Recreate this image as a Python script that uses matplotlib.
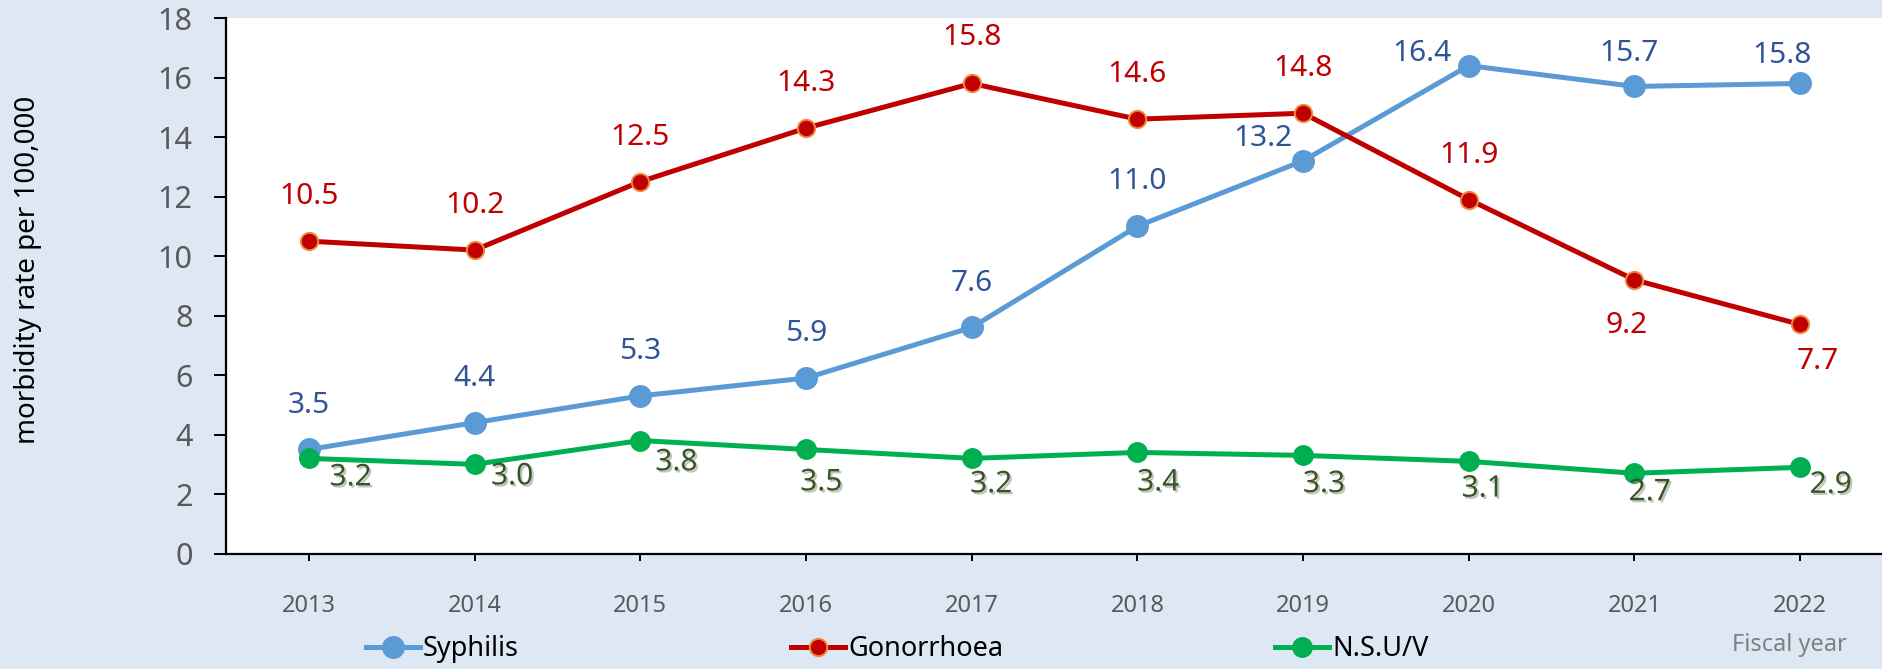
import matplotlib.pyplot as plt
import matplotlib.patheffects as pe

plt.rcParams['font.family'] = ['Noto Sans', 'DejaVu Sans']

years = [2013, 2014, 2015, 2016, 2017, 2018, 2019, 2020, 2021, 2022]
syphilis = [3.5, 4.4, 5.3, 5.9, 7.6, 11.0, 13.2, 16.4, 15.7, 15.8]
gonorrhoea = [10.5, 10.2, 12.5, 14.3, 15.8, 14.6, 14.8, 11.9, 9.2, 7.7]
nsu = [3.2, 3.0, 3.8, 3.5, 3.2, 3.4, 3.3, 3.1, 2.7, 2.9]

# label offsets (points) per data point
syph_off = [(0, 32), (0, 32), (0, 32), (0, 32), (0, 32), (0, 32),
            (-29, 16), (-34, 9), (-4, 24), (-13, 20)]
gono_off = [(0, 32), (0, 32), (0, 32), (0, 32), (0, 33), (0, 32),
            (0, 32), (0, 32), (-6, -33), (13, -27)]
nsu_off = [(30, -14), (27, -9), (26, -16), (11, -24), (14, -19),
           (15, -22), (15, -21), (10, -20), (11, -14), (22, -13)]

bg = '#DDE8F4'
fig = plt.figure(figsize=(18.83, 6.69), dpi=100, facecolor=bg)
ax = fig.add_axes([226 / 1883, 1 - 553.6 / 669, 1 - 226 / 1883, (553.6 - 18) / 669])
ax.set_facecolor('white')

l1, = ax.plot(years, syphilis, color='#5B9BD5', lw=3.6, marker='o', ms=15.5,
              label='Syphilis', zorder=3)
l2, = ax.plot(years, gonorrhoea, color='#C00000', lw=3.6, marker='o', ms=12.5,
              mfc='#C00000', mec='#F08A3C', mew=1.4, label='Gonorrhoea', zorder=3)
l3, = ax.plot(years, nsu, color='#00B050', lw=3.6, marker='o', ms=14,
              label='N.S.U/V', zorder=3)

for x, v, o in zip(years, syphilis, syph_off):
    ax.annotate(f'{v:.1f}', (x, v), xytext=o, textcoords='offset points',
                ha='center', va='center', fontsize=21.5, color='#2F5597')
for x, v, o in zip(years, gonorrhoea, gono_off):
    ax.annotate(f'{v:.1f}', (x, v), xytext=o, textcoords='offset points',
                ha='center', va='center', fontsize=21.5, color='#C00000')
shadow = [pe.SimplePatchShadow(offset=(1.5, -1.5), shadow_rgbFace='#888888', alpha=0.5),
          pe.Normal()]
for x, v, o in zip(years, nsu, nsu_off):
    ax.annotate(f'{v:.1f}', (x, v), xytext=o, textcoords='offset points',
                ha='center', va='center', fontsize=21.5, color='#375623',
                path_effects=shadow)

ax.set_xlim(2012.5, 2022.5)
ax.set_ylim(0, 18)
ax.set_yticks(range(0, 19, 2))
ax.set_xticks(years)
for s in ['top', 'right']:
    ax.spines[s].set_visible(False)
for s in ['left', 'bottom']:
    ax.spines[s].set_linewidth(1.6)
    ax.spines[s].set_color('black')
ax.tick_params(axis='y', length=9, width=1.4, labelsize=22, labelcolor='#595959', pad=15)
ax.tick_params(axis='x', length=5, width=1.4, labelsize=17, labelcolor='#595959', pad=24)

fig.text(28 / 1883, 1 - 270 / 669, 'morbidity rate per 100,000', rotation=90,
         ha='center', va='center', fontsize=20, color='black')
fig.text(1847 / 1883, 1 - 645 / 669, 'Fiscal year', ha='right', va='center',
         fontsize=17, color='#808080')

fig.legend(handles=[l1, l2, l3], loc='center left', bbox_to_anchor=(366 / 1883, 1 - 649 / 669),
           ncol=3, frameon=False, fontsize=19.5, handlelength=2.0, handletextpad=0.1,
           columnspacing=10.05, borderaxespad=0, borderpad=0)

fig.savefig('out.png', dpi=100, facecolor=bg)
